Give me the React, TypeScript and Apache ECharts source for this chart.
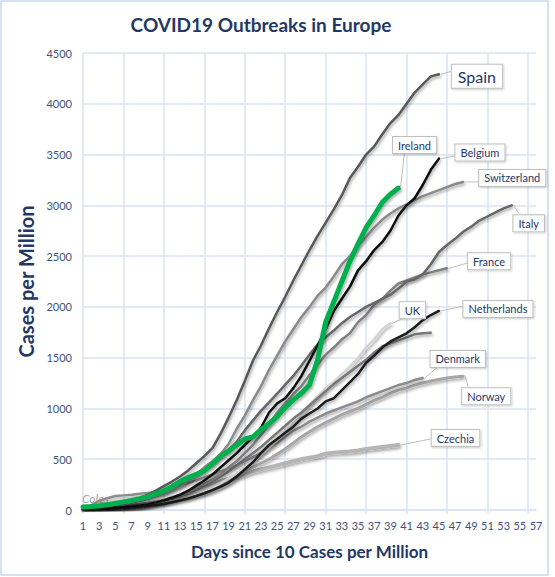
import React, { useEffect, useRef } from "react";
import * as echarts from "echarts";

const days = ["1","2","3","4","5","6","7","8","9","10","11","12","13","14","15","16","17","18","19","20","21","22","23","24","25","26","27","28","29","30","31","32","33","34","35","36","37","38","39","40","41","42","43","44","45","46","47","48","49","50","51","52","53","54","55","56","57"];

const spain = [10,15,22,32,45,62,85,115,150,190,235,280,330,390,460,530,610,750,910,1080,1270,1470,1620,1790,1950,2100,2260,2410,2560,2700,2830,2960,3100,3270,3380,3500,3580,3700,3810,3890,4000,4110,4190,4270,4290];
const belgium = [10,12,15,18,22,28,35,45,58,75,95,120,150,190,240,290,350,420,490,560,640,720,810,960,1050,1100,1200,1320,1470,1620,1780,1960,2080,2200,2360,2450,2560,2640,2750,2900,3000,3070,3200,3350,3460];
const switzerland = [10,15,22,30,40,55,70,90,110,135,160,190,230,290,350,420,480,550,650,800,930,1080,1220,1380,1520,1660,1780,1900,2000,2110,2190,2300,2420,2500,2600,2690,2780,2860,2920,2970,3010,3050,3090,3120,3150,3180,3210,3230];
const italy = [20,28,35,43,51,61,77,97,127,152,168,210,250,293,350,412,455,529,590,671,784,880,976,1060,1145,1235,1320,1422,1530,1630,1700,1767,1840,1900,1950,2000,2040,2080,2120,2180,2250,2270,2320,2420,2540,2610,2670,2740,2790,2850,2890,2930,2970,3000];
const ireland = [30,35,42,52,66,80,95,112,132,160,190,230,280,320,350,385,455,530,580,640,700,720,790,850,920,1010,1085,1150,1230,1480,1850,2050,2250,2450,2620,2780,2900,3030,3110,3170];
const france = [10,14,18,23,30,38,46,57,70,85,100,125,150,180,220,260,300,350,420,480,560,640,740,840,960,1050,1140,1220,1330,1430,1530,1600,1680,1740,1850,1920,2020,2080,2160,2230,2260,2290,2320,2340,2360,2380];
const netherlands = [10,11,12,14,17,20,25,32,40,50,62,76,93,113,138,165,195,230,270,330,400,470,560,640,700,760,820,900,950,1000,1070,1100,1180,1260,1340,1450,1520,1600,1660,1700,1740,1800,1870,1920,1960];
const uk = [10,12,15,19,23,28,34,42,52,63,77,93,112,135,160,190,225,265,310,360,415,480,545,615,690,770,850,930,1040,1120,1200,1260,1340,1410,1500,1600,1680,1780,1840];
const germany = [10,12,15,18,22,28,35,45,58,72,90,110,135,165,200,240,280,330,380,440,500,560,620,690,760,830,900,960,1030,1100,1170,1240,1300,1360,1420,1480,1550,1610,1640,1670,1700,1730,1740,1745];
const denmark = [15,45,89,116,138,144,151,161,168,180,195,215,240,265,290,320,350,380,410,440,480,520,560,610,660,720,780,820,870,910,950,980,1010,1040,1070,1110,1140,1170,1200,1230,1250,1280,1300];
const norway = [10,12,15,17,20,25,30,35,45,60,75,110,140,170,200,230,260,290,310,340,380,420,460,500,550,600,660,720,770,820,860,900,940,970,1000,1040,1080,1110,1150,1180,1200,1230,1250,1270,1285,1300,1310,1318];
const czechia = [10,12,15,19,24,30,37,45,55,68,80,95,112,130,150,170,195,230,270,320,350,380,400,420,440,460,480,500,515,530,555,565,570,575,585,600,610,620,630,640];

const yTicks = { min: 0, max: 4500, interval: 500 };

type S = { name: string; data: number[]; color: string; width: number; label?: boolean };
const seriesList: S[] = [
  { name: "Czechia", data: czechia, color: "#b5b5b5", width: 4, label: true },
  { name: "Norway", data: norway, color: "#a6a6a6", width: 3, label: true },
  { name: "Denmark", data: denmark, color: "#8c8c8c", width: 2.5, label: true },
  { name: "UK", data: uk, color: "#d4d4d4", width: 2.5, label: true },
  { name: "Germany", data: germany, color: "#777777", width: 2.5 },
  { name: "France", data: france, color: "#808080", width: 2.5, label: true },
  { name: "Italy", data: italy, color: "#666666", width: 2.5, label: true },
  { name: "Switzerland", data: switzerland, color: "#8a8a8a", width: 2.5, label: true },
  { name: "Netherlands", data: netherlands, color: "#1a1a1a", width: 2.5, label: true },
  { name: "Spain", data: spain, color: "#595959", width: 2.5, label: true },
  { name: "Belgium", data: belgium, color: "#0d0d0d", width: 2.5, label: true },
  { name: "Ireland", data: ireland, color: "#00B050", width: 5, label: true },
];

// label box placement relative to line end: [dx, dy] box centre, [ax, ay] leader anchor
const labelPlace: Record<string, { d: [number, number]; a: [number, number]; size?: number }> = {
  Spain: { d: [38, 2], a: [16, -4], size: 16 },
  Ireland: { d: [16, -43], a: [6, -35] },
  Belgium: { d: [41, -6], a: [18, -3] },
  Switzerland: { d: [49, -4], a: [17, 0] },
  Italy: { d: [17, 18], a: [7, 8] },
  France: { d: [42, -7], a: [23, -6] },
  Netherlands: { d: [59, -2], a: [25, -5] },
  UK: { d: [22, -13], a: [16, -6] },
  Denmark: { d: [35, -19], a: [15, -11] },
  Norway: { d: [23, 20], a: [5, 11] },
  Czechia: { d: [57, -7], a: [32, -6] },
};

const FONT = "Lato, 'Open Sans', sans-serif";
const NAVY = "#1F3864";
const TICK = "#3D5278";
const GRID = "#DAE3F3";

export default function App() {
  const ref = useRef<HTMLDivElement>(null);
  useEffect(() => {
    document.body.style.margin = "0";
    const chart = echarts.init(ref.current!, null, { renderer: "svg" });
    const option: any = {
      animation: false,
      backgroundColor: "#ffffff",
      textStyle: { fontFamily: FONT },
      grid: { left: 83, right: 19, top: 53, bottom: 67 },
      xAxis: {
        type: "category",
        data: days,
        boundaryGap: false,
        name: "Days since 10 Cases per Million",
        nameLocation: "middle",
        nameGap: 33,
        nameTextStyle: { fontFamily: FONT, fontWeight: "bold", fontSize: 17, color: NAVY },
        axisLine: { show: true, lineStyle: { color: GRID, width: 1.5 } },
        axisTick: { show: true, interval: 4, length: 4, lineStyle: { color: GRID, width: 1.5 } },
        axisLabel: { interval: 1, color: TICK, fontSize: 11, margin: 10, fontFamily: FONT },
        splitLine: { show: true, interval: 4, lineStyle: { color: GRID, width: 1.5 } },
      },
      yAxis: {
        type: "value",
        min: yTicks.min,
        max: yTicks.max,
        interval: yTicks.interval,
        name: "Cases per Million",
        nameLocation: "middle",
        nameRotate: 90,
        nameGap: 44,
        nameTextStyle: { fontFamily: FONT, fontWeight: "bold", fontSize: 20, color: NAVY },
        axisLine: { show: false },
        axisTick: { show: false },
        axisLabel: {
          color: TICK,
          fontSize: 11,
          margin: 11,
          fontFamily: FONT,
          formatter: (v: number) => String(v),
        },
        splitLine: { show: true, lineStyle: { color: GRID, width: 1.5 } },
      },
      series: seriesList.map((s, i) => ({
        name: s.name,
        type: "line",
        data: s.data,
        showSymbol: false,
        symbol: "none",
        z: 2 + i,
        lineStyle: {
          color: s.color,
          width: s.width,
          cap: "round",
          join: "round",
          shadowColor: "rgba(0,0,0,0.35)",
          shadowBlur: 3,
          shadowOffsetX: 1,
          shadowOffsetY: 2,
        },
      })),
    };
    chart.setOption(option);

    const graphics: any[] = [
      {
        type: "rect",
        shape: { x: 1, y: 1, width: 547, height: 574 },
        style: { fill: "none", stroke: "#D6E1F2", lineWidth: 2 },
        z: 0,
        silent: true,
      },
      {
        type: "text",
        x: 261,
        y: 24,
        style: {
          text: "COVID19 Outbreaks in Europe",
          font: `bold 19px ${FONT}`,
          fill: NAVY,
          align: "center",
          verticalAlign: "middle",
        },
        z: 50,
      },
      {
        type: "text",
        x: 82,
        y: 498,
        style: {
          text: "Coles",
          font: `italic 12px ${FONT}`,
          fill: "#a6a6a6",
          align: "left",
          verticalAlign: "middle",
        },
        z: 1,
      },
    ];

    seriesList.forEach((s) => {
      if (!s.label) return;
      const p = labelPlace[s.name];
      const last = s.data.length - 1;
      const pt = chart.convertToPixel({ gridIndex: 0 }, [last, s.data[last]]) as number[];
      const [px, py] = pt;
      graphics.push({
        type: "line",
        shape: { x1: px + 2, y1: py, x2: px + p.a[0], y2: py + p.a[1] },
        style: { stroke: "#BFBFBF", lineWidth: 1 },
        z: 60,
        silent: true,
      });
      graphics.push({
        type: "text",
        x: px + p.d[0],
        y: py + p.d[1],
        style: {
          text: s.name,
          font: `${p.size || 11}px ${FONT}`,
          fill: NAVY,
          align: "center",
          verticalAlign: "middle",
          backgroundColor: "#ffffff",
          borderColor: "#BFBFBF",
          borderWidth: 1,
          padding: p.size ? [4, 6, 3, 6] : [3, 5, 2, 5],
          shadowColor: "rgba(0,0,0,0.2)",
          shadowBlur: 2,
          shadowOffsetX: 1,
          shadowOffsetY: 1,
        },
        z: 70,
      });
    });

    chart.setOption({ graphic: graphics });
    return () => chart.dispose();
  }, []);

  return (
    <div
      ref={ref}
      style={{ position: "absolute", left: 0, top: 0, width: 555, height: 577 }}
    />
  );
}
